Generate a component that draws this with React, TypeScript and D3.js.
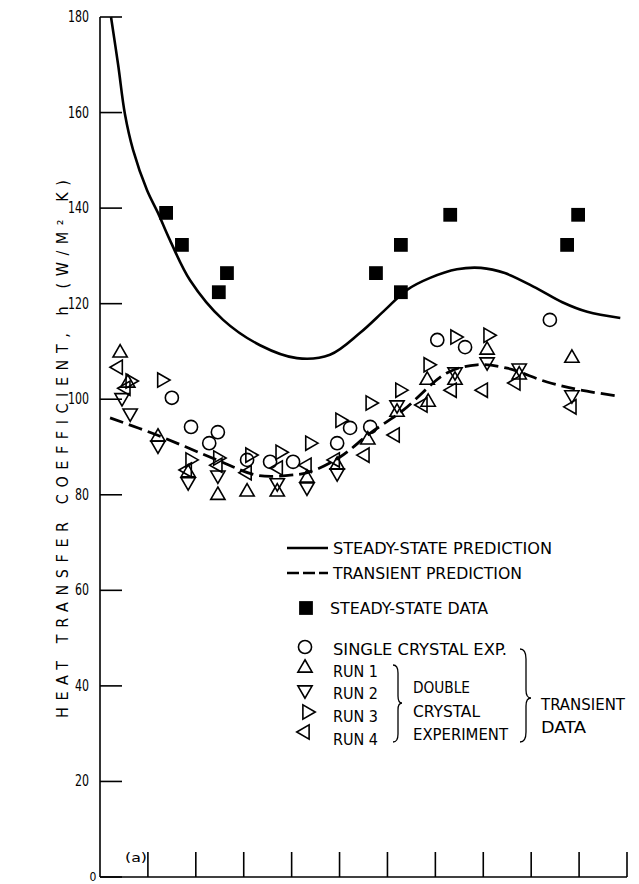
import * as d3 from "d3";

// axis ticks
const xTicks = [0, 1, 2, 3, 4, 5, 6, 7, 8, 9, 10, 11];
const yTicks = [0, 20, 40, 60, 80, 100, 120, 140, 160, 180];

// steady-state prediction (solid curve)
const steadyPredX = [0.23, 0.38, 0.52, 0.69, 0.98, 1.21, 1.46, 1.88, 2.57, 3.34, 4.11, 4.8, 5.43, 5.95, 6.41, 6.89, 7.45, 7.95, 8.45, 9.1, 9.65, 10.17, 10.86];
const steadyPredY = [180, 169.9, 159.7, 152.2, 143.8, 139.0, 133.3, 124.9, 116.6, 111.3, 108.6, 109.3, 113.9, 118.7, 122.9, 125.4, 127.2, 127.5, 126.4, 123.3, 120.3, 118.3, 117.0];

// transient prediction (dashed curve)
const transPredX = [0.21, 1.19, 2.44, 3.28, 3.97, 4.38, 5.01, 5.64, 6.33, 7.24, 7.87, 8.5, 9.33, 10.04, 10.86];
const transPredY = [96.1, 92.5, 87.3, 84.1, 84.1, 84.8, 87.9, 92.9, 97.7, 105.5, 107.2, 106.5, 103.6, 101.9, 100.6];

// steady-state data (filled squares)
const steadyDataX = [1.38, 1.71, 2.65, 2.48, 5.76, 6.28, 6.28, 7.31, 9.98, 9.75];
const steadyDataY = [139.0, 132.3, 126.4, 122.4, 126.4, 132.3, 122.4, 138.6, 138.6, 132.3];

// single crystal exp. (circles)
const singleX = [1.5, 1.9, 2.28, 2.46, 3.07, 3.55, 4.03, 4.95, 5.22, 5.64, 7.04, 7.62, 9.39];
const singleY = [100.3, 94.2, 90.8, 93.1, 87.3, 86.9, 86.9, 90.8, 94.0, 94.2, 112.4, 110.9, 116.6];

// run 1 (up triangles)
const run1X = [0.42, 0.58, 1.21, 1.84, 2.46, 3.07, 3.7, 4.32, 4.95, 5.59, 6.2, 6.85, 6.83, 7.41, 8.08, 8.75, 9.85];
const run1Y = [109.7, 103.4, 92.1, 84.6, 79.9, 80.6, 80.6, 83.5, 86.2, 91.5, 97.3, 99.4, 104.0, 104.0, 110.3, 105.1, 108.6];

// run 2 (down triangles)
const run2X = [0.46, 0.63, 1.21, 1.84, 2.46, 3.7, 4.32, 4.95, 6.2, 7.41, 8.08, 8.75, 9.85];
const run2Y = [100.3, 97.1, 90.4, 82.7, 84.1, 82.5, 81.6, 84.6, 98.8, 105.7, 107.8, 106.5, 100.9];

// run 3 (right triangles)
const run3X = [0.63, 1.29, 1.88, 2.46, 3.13, 3.76, 4.38, 5.01, 5.64, 6.26, 6.85, 7.41, 8.1];
const run3Y = [103.8, 104.0, 87.3, 87.7, 88.3, 88.9, 90.8, 95.6, 99.2, 101.9, 107.2, 113.0, 113.4];

// run 4 (left triangles)
const run4X = [0.38, 0.54, 1.82, 2.46, 3.07, 3.72, 4.32, 4.91, 5.53, 6.16, 6.74, 7.35, 8.0, 8.68, 9.85];
const run4Y = [106.7, 102.3, 85.2, 86.2, 84.6, 85.6, 86.2, 87.3, 88.3, 92.5, 98.8, 101.9, 101.9, 103.4, 98.4];

const FONT = "'DejaVu Sans Condensed', 'Liberation Sans Narrow', 'DejaVu Sans', sans-serif";

const x = d3.scaleLinear().domain([0, 11]).range([100, 627]);
const y = d3.scaleLinear().domain([0, 180]).range([877, 17]);

const line = d3
    .line<[number, number]>()
    .x((d) => x(d[0]))
    .y((d) => y(d[1]))
    .curve(d3.curveCatmullRom.alpha(0.5));

const zip = (xs: number[], ys: number[]) => xs.map((v, i) => [v, ys[i]] as [number, number]);

const triPath = d3.symbol().type(d3.symbolTriangle).size(88)() as string;
const circPath = d3.symbol().type(d3.symbolCircle).size(135)() as string;
const sqPath = d3.symbol().type(d3.symbolSquare).size(190)() as string;

const openSeries = [
    { xs: singleX, ys: singleY, path: circPath, rot: 0 },
    { xs: run1X, ys: run1Y, path: triPath, rot: 0 },
    { xs: run2X, ys: run2Y, path: triPath, rot: 180 },
    { xs: run3X, ys: run3Y, path: triPath, rot: 90 },
    { xs: run4X, ys: run4Y, path: triPath, rot: -90 },
];

const Label = ({ x, y, w, text, size = 16 }: { x: number; y: number; w: number; text: string; size?: number }) => (
    <text x={x} y={y} fontSize={size} textLength={w} lengthAdjust="spacingAndGlyphs">
        {text}
    </text>
);

const App = () => {
    return (
        <svg
            width={639}
            height={884}
            style={{ position: "absolute", left: 0, top: 0, background: "#fff" }}
            fontFamily={FONT}
        >
            {/* axes */}
            <g stroke="#000" strokeWidth={1.6}>
                <line x1={x(0)} x2={x(0)} y1={y(0)} y2={y(180)} />
                <line x1={x(0)} x2={x(11)} y1={y(0)} y2={y(0)} />
                {yTicks.map((t) => (
                    <line key={"yt" + t} x1={x(0)} x2={x(0) + 22} y1={y(t)} y2={y(t)} />
                ))}
                {xTicks.slice(1).map((t) => (
                    <line key={"xt" + t} x1={x(t)} x2={x(t)} y1={y(0)} y2={y(0) - 25} />
                ))}
            </g>
            <g fill="#000">
                {yTicks.map((t) =>
                    t === 0 ? (
                        <text key={"yl" + t} x={93} y={881} fontSize={12} textAnchor="middle">
                            0
                        </text>
                    ) : (
                        <text
                            key={"yl" + t}
                            x={89 - String(t).length * 7}
                            y={y(t) + 5}
                            fontSize={15}
                            textLength={String(t).length * 7}
                            lengthAdjust="spacingAndGlyphs"
                        >
                            {t}
                        </text>
                    )
                )}
                <text
                    transform="translate(68,449) rotate(-90)"
                    x={-269}
                    y={0}
                    fontSize={16}
                    textLength={538}
                    lengthAdjust="spacing"
                >
                    HEAT TRANSFER COEFFICIENT, h (W/M² K)
                </text>
                <Label x={125} y={862} w={22} text="(a)" size={13} />
            </g>

            {/* prediction curves */}
            <path d={line(zip(steadyPredX, steadyPredY)) || ""} fill="none" stroke="#000" strokeWidth={2.6} />
            <path
                d={line(zip(transPredX, transPredY)) || ""}
                fill="none"
                stroke="#000"
                strokeWidth={2.8}
                strokeDasharray="14 6"
            />

            {/* steady-state data */}
            {steadyDataX.map((v, i) => (
                <path key={"sq" + i} d={sqPath} transform={`translate(${x(v)},${y(steadyDataY[i])})`} fill="#000" />
            ))}

            {/* transient data */}
            {openSeries.map((s, si) =>
                s.xs.map((v, i) => (
                    <path
                        key={`m${si}-${i}`}
                        d={s.path}
                        transform={`translate(${x(v)},${y(s.ys[i])}) rotate(${s.rot})`}
                        fill="none"
                        stroke="#000"
                        strokeWidth={1.6}
                    />
                ))
            )}

            {/* legend */}
            <g fill="#000">
                <line x1={287} x2={328} y1={548} y2={548} stroke="#000" strokeWidth={2.4} />
                <Label x={333} y={554} w={219} text="STEADY-STATE PREDICTION" />
                <line x1={287} x2={328} y1={573} y2={573} stroke="#000" strokeWidth={2.4} strokeDasharray="12 4" />
                <Label x={333} y={579} w={189} text="TRANSIENT PREDICTION" />
                <path d={sqPath} transform="translate(306,608)" />
                <Label x={330} y={614} w={158} text="STEADY-STATE DATA" />
                <path d={circPath} transform="translate(305,647)" fill="none" stroke="#000" strokeWidth={1.6} />
                <Label x={333} y={655} w={174} text="SINGLE CRYSTAL EXP." />
                <path d={triPath} transform="translate(305,668)" fill="none" stroke="#000" strokeWidth={1.6} />
                <Label x={333} y={677} w={45} text="RUN 1" />
                <path d={triPath} transform="translate(305,690) rotate(180)" fill="none" stroke="#000" strokeWidth={1.6} />
                <Label x={333} y={699} w={45} text="RUN 2" />
                <path d={triPath} transform="translate(307,712) rotate(90)" fill="none" stroke="#000" strokeWidth={1.6} />
                <Label x={333} y={722} w={45} text="RUN 3" />
                <path d={triPath} transform="translate(305,732) rotate(-90)" fill="none" stroke="#000" strokeWidth={1.6} />
                <Label x={333} y={745} w={45} text="RUN 4" />
                <path
                    d="M393,665 Q398,665 398,673 L398,696 Q398,703 402,703 Q398,703 398,710 L398,734 Q398,742 393,742"
                    fill="none"
                    stroke="#000"
                    strokeWidth={1.3}
                />
                <Label x={413} y={693} w={57} text="DOUBLE" />
                <Label x={413} y={717} w={67} text="CRYSTAL" />
                <Label x={413} y={740} w={95} text="EXPERIMENT" />
                <path
                    d="M520,649 Q526,649 526,659 L526,690 Q526,698 531,698 Q526,698 526,706 L526,732 Q526,742 520,742"
                    fill="none"
                    stroke="#000"
                    strokeWidth={1.3}
                />
                <Label x={541} y={710} w={84} text="TRANSIENT" />
                <Label x={541} y={733} w={45} text="DATA" />
            </g>
        </svg>
    );
};

export default App;
